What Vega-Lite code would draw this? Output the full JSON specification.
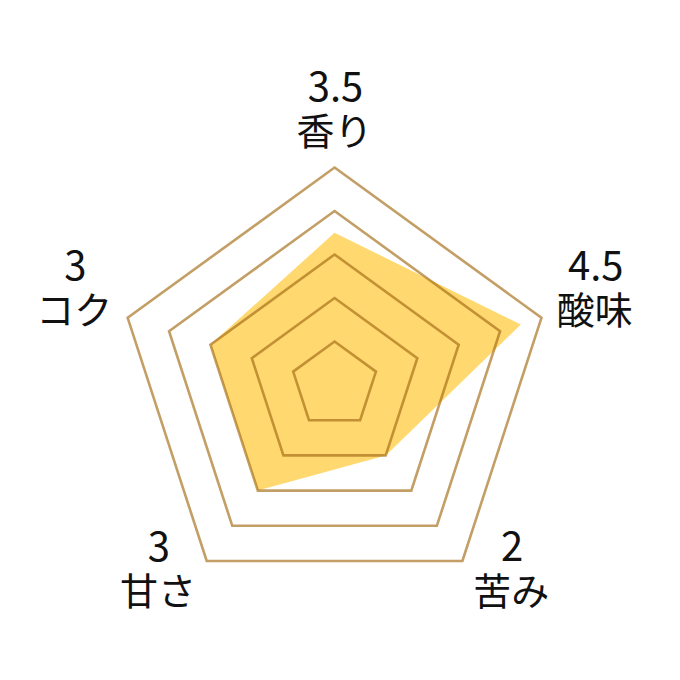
{
  "$schema": "https://vega.github.io/schema/vega-lite/v6.json",
  "width": 680,
  "height": 680,
  "autosize": {"type": "fit", "contains": "padding"},
  "padding": 0,
  "background": "white",
  "config": {"view": {"stroke": null}},
  "datasets": {
    "scores": [
      {"axis": "香り", "i": 0, "score": 3.5},
      {"axis": "酸味", "i": 1, "score": 4.5},
      {"axis": "苦み", "i": 2, "score": 2},
      {"axis": "甘さ", "i": 3, "score": 3},
      {"axis": "コク", "i": 4, "score": 3}
    ],
    "rings": [
      {"ring": 1, "i": 0}, {"ring": 1, "i": 1}, {"ring": 1, "i": 2}, {"ring": 1, "i": 3}, {"ring": 1, "i": 4},
      {"ring": 2, "i": 0}, {"ring": 2, "i": 1}, {"ring": 2, "i": 2}, {"ring": 2, "i": 3}, {"ring": 2, "i": 4},
      {"ring": 3, "i": 0}, {"ring": 3, "i": 1}, {"ring": 3, "i": 2}, {"ring": 3, "i": 3}, {"ring": 3, "i": 4},
      {"ring": 4, "i": 0}, {"ring": 4, "i": 1}, {"ring": 4, "i": 2}, {"ring": 4, "i": 3}, {"ring": 4, "i": 4},
      {"ring": 5, "i": 0}, {"ring": 5, "i": 1}, {"ring": 5, "i": 2}, {"ring": 5, "i": 3}, {"ring": 5, "i": 4}
    ]
  },
  "encoding": {
    "x": {
      "field": "x",
      "type": "quantitative",
      "scale": {"domain": [-7.69, 7.94], "nice": false, "zero": false},
      "axis": null
    },
    "y": {
      "field": "y",
      "type": "quantitative",
      "scale": {"domain": [-6.78, 8.85], "nice": false, "zero": false},
      "axis": null
    }
  },
  "layer": [
    {
      "data": {"name": "scores"},
      "transform": [
        {"calculate": "datum.score * sin(2 * PI * datum.i / 5)", "as": "x"},
        {"calculate": "datum.score * cos(2 * PI * datum.i / 5)", "as": "y"}
      ],
      "mark": {
        "type": "line",
        "interpolate": "linear-closed",
        "fill": "#FFCC40",
        "fillOpacity": 0.75,
        "stroke": "#FFCC40",
        "strokeWidth": 0
      },
      "encoding": {
        "order": {"field": "i", "type": "quantitative"},
        "tooltip": [
          {"field": "axis", "type": "nominal"},
          {"field": "score", "type": "quantitative"}
        ]
      }
    },
    {
      "data": {"name": "rings"},
      "transform": [
        {"calculate": "datum.ring * sin(2 * PI * datum.i / 5)", "as": "x"},
        {"calculate": "datum.ring * cos(2 * PI * datum.i / 5)", "as": "y"}
      ],
      "mark": {
        "type": "line",
        "interpolate": "linear-closed",
        "stroke": "#A36A12",
        "strokeOpacity": 0.65,
        "strokeWidth": 2.6,
        "strokeJoin": "miter"
      },
      "encoding": {
        "detail": {"field": "ring", "type": "nominal"},
        "order": {"field": "i", "type": "quantitative"}
      }
    },
    {
      "data": {"name": "scores"},
      "transform": [
        {"calculate": "sin(2 * PI * datum.i / 5)", "as": "s"},
        {"calculate": "cos(2 * PI * datum.i / 5)", "as": "c"},
        {"calculate": "5.29 * datum.s + (datum.s > 0.1 ? 0.95 : datum.s < -0.1 ? -0.95 : 0)", "as": "x"},
        {"calculate": "5.29 * datum.c + (datum.c > 0 ? sqrt(datum.c) : 0)", "as": "y"}
      ],
      "mark": {
        "type": "text",
        "align": "center",
        "baseline": "alphabetic",
        "dy": -10,
        "dx": 1,
        "font": "Noto Sans CJK JP",
        "fontSize": 40,
        "letterSpacing": 3,
        "color": "#111111"
      },
      "encoding": {
        "text": {"field": "score", "type": "nominal"}
      }
    },
    {
      "data": {"name": "scores"},
      "transform": [
        {"calculate": "sin(2 * PI * datum.i / 5)", "as": "s"},
        {"calculate": "cos(2 * PI * datum.i / 5)", "as": "c"},
        {"calculate": "5.29 * datum.s + (datum.s > 0.1 ? 0.95 : datum.s < -0.1 ? -0.95 : 0)", "as": "x"},
        {"calculate": "5.29 * datum.c + (datum.c > 0 ? sqrt(datum.c) : 0)", "as": "y"}
      ],
      "mark": {
        "type": "text",
        "align": "center",
        "baseline": "alphabetic",
        "dy": 34,
        "font": "Noto Sans CJK JP",
        "fontSize": 38,
        "color": "#111111"
      },
      "encoding": {
        "text": {"field": "axis", "type": "nominal"}
      }
    }
  ]
}
